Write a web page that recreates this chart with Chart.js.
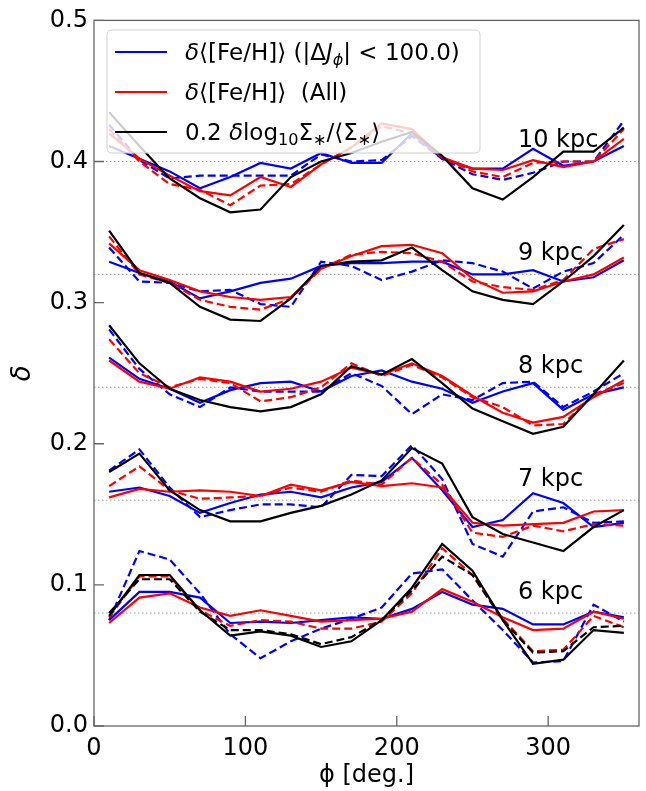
<!DOCTYPE html>
<html><head><meta charset="utf-8">
<script src="https://cdn.jsdelivr.net/npm/chart.js@4.4.1/dist/chart.umd.min.js"></script>
<style>html,body{margin:0;padding:0;background:#fff}</style>
</head><body>
<canvas id="c" width="646" height="791"></canvas>
<script>
// ---------------- data ----------------
const phi = [10,30,50,70,90,110,130,150,170,190,210,230,250,270,290,310,330,350];

const blueSolid10 = [0.411,0.402,0.393,0.381,0.389,0.399,0.395,0.406,0.399,0.399,0.420,0.402,0.395,0.395,0.409,0.397,0.400,0.411];
const blueDash10  = [0.426,0.401,0.388,0.390,0.390,0.390,0.390,0.405,0.400,0.401,0.418,0.402,0.391,0.387,0.392,0.400,0.400,0.429];
const redSolid10  = [0.420,0.402,0.390,0.379,0.376,0.389,0.382,0.398,0.410,0.427,0.423,0.403,0.395,0.394,0.401,0.396,0.400,0.416];
const redDash10   = [0.423,0.400,0.384,0.380,0.369,0.383,0.384,0.398,0.410,0.425,0.420,0.403,0.393,0.389,0.399,0.400,0.400,0.423];
const black10     = [0.435,0.411,0.388,0.374,0.364,0.366,0.389,0.400,0.406,0.414,0.421,0.404,0.381,0.373,0.389,0.407,0.407,0.424];

const blueSolid9 = [0.329,0.321,0.315,0.303,0.308,0.314,0.317,0.326,0.328,0.328,0.329,0.329,0.320,0.320,0.323,0.315,0.318,0.330];
const blueDash9  = [0.339,0.315,0.314,0.308,0.309,0.299,0.297,0.329,0.326,0.316,0.322,0.330,0.328,0.322,0.310,0.322,0.328,0.348];
const redSolid9  = [0.342,0.323,0.316,0.308,0.304,0.302,0.304,0.324,0.333,0.340,0.341,0.335,0.317,0.307,0.308,0.315,0.320,0.332];
const redDash9   = [0.347,0.320,0.314,0.302,0.297,0.295,0.303,0.324,0.334,0.336,0.335,0.329,0.315,0.311,0.309,0.316,0.338,0.345];
const black9     = [0.351,0.321,0.314,0.297,0.288,0.287,0.303,0.326,0.329,0.330,0.339,0.323,0.308,0.302,0.299,0.315,0.333,0.355];

const blueSolid8 = [0.261,0.246,0.239,0.229,0.238,0.243,0.244,0.237,0.248,0.252,0.244,0.239,0.229,0.237,0.243,0.224,0.235,0.240];
const blueDash8  = [0.281,0.253,0.235,0.226,0.240,0.237,0.237,0.237,0.250,0.241,0.221,0.235,0.231,0.243,0.244,0.226,0.237,0.250];
const redSolid8  = [0.259,0.244,0.239,0.247,0.244,0.237,0.239,0.244,0.254,0.249,0.257,0.248,0.234,0.222,0.215,0.219,0.233,0.245];
const redDash8   = [0.274,0.250,0.240,0.246,0.243,0.230,0.233,0.240,0.257,0.248,0.256,0.247,0.233,0.226,0.213,0.214,0.235,0.243];
const black8     = [0.284,0.257,0.239,0.231,0.226,0.223,0.226,0.235,0.255,0.249,0.260,0.243,0.225,0.216,0.207,0.212,0.235,0.259];

const blueSolid7 = [0.166,0.169,0.163,0.151,0.158,0.164,0.166,0.162,0.169,0.173,0.190,0.167,0.141,0.146,0.165,0.158,0.141,0.144];
const blueDash7  = [0.181,0.196,0.169,0.148,0.153,0.157,0.157,0.155,0.178,0.177,0.199,0.175,0.129,0.120,0.152,0.155,0.144,0.145];
const redSolid7  = [0.162,0.168,0.166,0.167,0.166,0.163,0.171,0.167,0.173,0.170,0.172,0.169,0.144,0.142,0.143,0.144,0.152,0.153];
const redDash7   = [0.170,0.184,0.167,0.161,0.162,0.163,0.169,0.166,0.174,0.171,0.190,0.171,0.137,0.134,0.142,0.138,0.143,0.142];
const black7     = [0.180,0.193,0.167,0.153,0.145,0.145,0.151,0.156,0.164,0.174,0.197,0.186,0.148,0.136,0.130,0.124,0.141,0.153];

const blueSolid6 = [0.075,0.095,0.095,0.091,0.073,0.074,0.073,0.075,0.077,0.076,0.083,0.095,0.086,0.083,0.072,0.072,0.081,0.077];
const blueDash6  = [0.075,0.124,0.118,0.094,0.065,0.048,0.060,0.069,0.076,0.084,0.108,0.111,0.089,0.068,0.045,0.046,0.086,0.074];
const redSolid6  = [0.073,0.091,0.094,0.084,0.078,0.082,0.078,0.074,0.075,0.076,0.081,0.097,0.088,0.077,0.068,0.069,0.081,0.076];
const redDash6   = [0.077,0.106,0.106,0.082,0.071,0.075,0.074,0.069,0.069,0.074,0.094,0.126,0.107,0.076,0.053,0.054,0.078,0.070];
const black6     = [0.078,0.107,0.107,0.082,0.064,0.067,0.064,0.056,0.060,0.075,0.098,0.129,0.110,0.075,0.044,0.047,0.068,0.066];
const blackDash6 = [0.080,0.104,0.104,0.081,0.068,0.068,0.065,0.058,0.063,0.075,0.096,0.120,0.107,0.075,0.052,0.053,0.070,0.071];

const baselines    = [0.08, 0.16, 0.24, 0.32, 0.40];
const radiusLabels = ['6 kpc','7 kpc','8 kpc','9 kpc','10 kpc'];
const labelPhi = 280;
const labelOffset = 0.01;
const xTicks = [0, 100, 200, 300];
const yTicks = [0.0, 0.1, 0.2, 0.3, 0.4, 0.5];
// --------------------------------------

const FONT = "'DejaVu Sans', sans-serif";
const pts = arr => arr.map((v, i) => ({x: phi[i], y: v}));
const LW = 2.2;
const DASH = [8, 4];

const groups = [
  [blueSolid6, blueDash6, redSolid6, redDash6, black6, blackDash6],
  [blueSolid7, blueDash7, redSolid7, redDash7, black7, null],
  [blueSolid8, blueDash8, redSolid8, redDash8, black8, null],
  [blueSolid9, blueDash9, redSolid9, redDash9, black9, null],
  [blueSolid10, blueDash10, redSolid10, redDash10, black10, null]
];
const styles = [
  {c:'#0000ff', d:[]}, {c:'#0000ff', d:DASH},
  {c:'#ff0000', d:[]}, {c:'#ff0000', d:DASH},
  {c:'#000000', d:[]}, {c:'#000000', d:DASH}
];

let drawList = []; // in paint order (first = bottom)
baselines.forEach(b => drawList.push({
  data: [{x:0, y:b}, {x:360, y:b}], borderColor:'#a0a0a0', borderWidth:1,
  borderDash:[1.5, 2.5], pointRadius:0, fill:false, tension:0
}));
groups.forEach(g => g.forEach((arr, k) => {
  if (!arr) return;
  drawList.push({
    data: pts(arr), borderColor: styles[k].c, borderWidth: LW,
    borderDash: styles[k].d, pointRadius: 0, fill: false, tension: 0
  });
}));
// Chart.js paints the first dataset last (on top) -> reverse
const datasets = drawList.slice().reverse();

function drawSegs(ctx, x, y, segs, size) {
  segs.forEach(s => {
    const sz = s.sub ? size * 0.7 : size;
    ctx.font = (s.it ? 'italic ' : '') + sz + 'px ' + FONT;
    ctx.fillText(s.t, x, y + (s.sub ? size * 0.22 : 0));
    x += ctx.measureText(s.t).width;
  });
}

const overlay = {
  id: 'overlay',
  afterDatasetsDraw(chart) {
    const ctx = chart.ctx, xs = chart.scales.x, ys = chart.scales.y;
    ctx.save();
    ctx.fillStyle = '#000';
    ctx.textAlign = 'left';
    ctx.textBaseline = 'alphabetic';
    ctx.font = '24px ' + FONT;
    radiusLabels.forEach((t, i) => {
      ctx.fillText(t, xs.getPixelForValue(labelPhi), ys.getPixelForValue(baselines[i] + labelOffset));
    });
    // legend
    const L = 107, T = 30, R = 480, B = 153, rad = 5;
    ctx.beginPath();
    ctx.moveTo(L + rad, T); ctx.lineTo(R - rad, T); ctx.quadraticCurveTo(R, T, R, T + rad);
    ctx.lineTo(R, B - rad); ctx.quadraticCurveTo(R, B, R - rad, B);
    ctx.lineTo(L + rad, B); ctx.quadraticCurveTo(L, B, L, B - rad);
    ctx.lineTo(L, T + rad); ctx.quadraticCurveTo(L, T, L + rad, T);
    ctx.closePath();
    ctx.fillStyle = 'rgba(255,255,255,0.8)';
    ctx.fill();
    ctx.strokeStyle = '#d0d0d0'; ctx.lineWidth = 1; ctx.stroke();
    const rows = [
      {c:'#0000ff', y:52, segs:[{t:'δ',it:1},{t:'⟨[Fe/H]⟩ (|Δ'},{t:'J',it:1},{t:'ϕ',it:1,sub:1},{t:'| < 100.0)'}]},
      {c:'#ff0000', y:92, segs:[{t:'δ',it:1},{t:'⟨[Fe/H]⟩  (All)'}]},
      {c:'#000000', y:132, segs:[{t:'0.2 '},{t:'δ',it:1},{t:'log'},{t:'10',sub:1},{t:'Σ'},{t:'∗',sub:1},{t:'/⟨Σ'},{t:'∗',sub:1},{t:'⟩'}]}
    ];
    rows.forEach(r => {
      ctx.strokeStyle = r.c; ctx.lineWidth = LW; ctx.setLineDash([]);
      ctx.beginPath(); ctx.moveTo(115, r.y); ctx.lineTo(167, r.y); ctx.stroke();
      ctx.fillStyle = '#000';
      drawSegs(ctx, 185, r.y + 8, r.segs, 23);
    });
    ctx.restore();
  },
  afterDraw(chart) {
    const ctx = chart.ctx, a = chart.chartArea, xs = chart.scales.x, ys = chart.scales.y;
    ctx.save();
    ctx.strokeStyle = '#666'; ctx.lineWidth = 1.3; ctx.setLineDash([]);
    ctx.strokeRect(a.left, a.top, a.right - a.left, a.bottom - a.top);
    ctx.beginPath();
    xTicks.forEach(v => { const p = xs.getPixelForValue(v); ctx.moveTo(p, a.bottom); ctx.lineTo(p, a.bottom - 10); });
    yTicks.forEach(v => { const p = ys.getPixelForValue(v); ctx.moveTo(a.left, p); ctx.lineTo(a.left + 10, p); });
    ctx.stroke();
    ctx.restore();
  }
};

new Chart(document.getElementById('c'), {
  type: 'line',
  data: { datasets },
  options: {
    responsive: false, animation: false, devicePixelRatio: 1,
    layout: { padding: { top: 17, right: 7, left: 0, bottom: 0 } },
    plugins: { legend: { display: false }, tooltip: { enabled: false } },
    scales: {
      x: {
        type: 'linear', min: 0, max: 360,
        afterBuildTicks: s => { s.ticks = xTicks.map(v => ({ value: v })); },
        afterFit: s => { s.height = 65; },
        grid: { display: false, drawTicks: false, tickLength: 0 },
        border: { display: false },
        ticks: { color: '#000', font: { size: 24, family: FONT }, padding: 8, maxRotation: 0, autoSkip: false,
                 callback: v => String(v) },
        title: { display: true, text: 'ϕ [deg.]', color: '#000', font: { size: 24, family: FONT }, padding: { top: 0, bottom: 1 } }
      },
      y: {
        type: 'linear', min: 0, max: 0.5,
        afterBuildTicks: s => { s.ticks = yTicks.map(v => ({ value: v })); },
        afterFit: s => { s.width = 94; },
        grid: { display: false, drawTicks: false, tickLength: 0 },
        border: { display: false },
        ticks: { color: '#000', font: { size: 24, family: FONT }, padding: 6, autoSkip: false,
                 callback: v => Number(v).toFixed(1) },
        title: { display: true, text: 'δ', color: '#000', font: { size: 26, family: FONT, style: 'italic' }, padding: { top: 8, bottom: 0 } }
      }
    }
  },
  plugins: [overlay]
});
</script>
</body></html>
